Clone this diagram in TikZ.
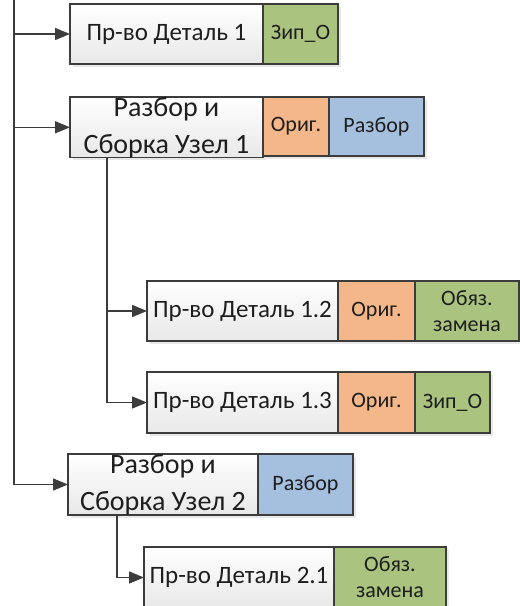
\documentclass[tikz,border=0pt]{standalone}
\usepackage{fontspec}
\setmainfont{Carlito}
\usetikzlibrary{arrows.meta,calc,shadows}
\definecolor{edge}{RGB}{60,60,60}
\definecolor{ink}{RGB}{30,30,30}
\definecolor{cgreen}{RGB}{170,195,126}
\definecolor{corange}{RGB}{244,183,138}
\definecolor{cblue}{RGB}{165,192,223}
\definecolor{cwhitebot}{RGB}{232,232,232}
\tikzset{
  cell/.style={draw=edge, line width=1.4pt, anchor=north west, inner sep=0pt,
    outer sep=0pt, align=center, text=ink,
    drop shadow={opacity=0.18, shadow xshift=2.5pt, shadow yshift=-2.5pt}},
  namecell/.style={cell, top color=white, bottom color=cwhitebot,
    font=\fontsize{25}{30}\selectfont},
  titlecell/.style={cell, top color=white, bottom color=cwhitebot,
    font=\fontsize{28}{37}\selectfont},
  tagfont/.style={font=\fontsize{22}{26}\selectfont},
  greencell/.style={cell, fill=cgreen, tagfont},
  orangecell/.style={cell, fill=corange, tagfont},
  bluecell/.style={cell, fill=cblue, tagfont},
  link/.style={draw=edge, line width=1.4pt,
    -{Triangle[length=15pt,width=12pt]}},
}
\begin{document}
\begin{tikzpicture}[x=1pt,y=-1pt]
\useasboundingbox (0,0) rectangle (520,606);
\clip (0,0) rectangle (520,606);
\fill[white] (0,0) rectangle (520,606);

% Деталь 1
\node[namecell, minimum width=193pt, minimum height=60pt] (a1) at (70,4) {Пр-во Деталь 1};
\node[greencell, minimum width=75pt, minimum height=60pt] (a2) at (a1.north east) {Зип\_О};

% Узел 1
\node[titlecell, minimum width=193pt, minimum height=59pt] (b1) at (70,97) {Разбор и\\Сборка Узел 1};
\node[orangecell, minimum width=66pt, minimum height=59pt] (b2) at (b1.north east) {Ориг.};
\node[bluecell, minimum width=95pt, minimum height=59pt] (b3) at (b2.north east) {Разбор};

% Деталь 1.2
\node[namecell, minimum width=191pt, minimum height=60pt] (c1) at (147,281) {Пр-во Деталь 1.2};
\node[orangecell, minimum width=77pt, minimum height=60pt] (c2) at (c1.north east) {Ориг.};
\node[greencell, minimum width=104pt, minimum height=60pt] (c3) at (c2.north east) {Обяз.\\замена};

% Деталь 1.3
\node[namecell, minimum width=191pt, minimum height=61pt] (d1) at (147,372) {Пр-во Деталь 1.3};
\node[orangecell, minimum width=77pt, minimum height=61pt] (d2) at (d1.north east) {Ориг.};
\node[greencell, minimum width=75pt, minimum height=61pt] (d3) at (d2.north east) {Зип\_О};

% Узел 2
\node[titlecell, minimum width=190pt, minimum height=61pt] (f1) at (68,454) {Разбор и\\Сборка Узел 2};
\node[bluecell, minimum width=95pt, minimum height=61pt] (f2) at (f1.north east) {Разбор};

% Деталь 2.1
\node[namecell, minimum width=190pt, minimum height=61pt] (e1) at (144,547) {Пр-во Деталь 2.1};
\node[greencell, minimum width=112pt, minimum height=61pt] (e2) at (e1.north east) {Обяз.\\замена};

% connectors
\coordinate (top) at (14,-2);
\coordinate (b1tap) at ($(b1.south west)+(37,0)$);
\coordinate (f1tap) at ($(f1.south west)+(49,0)$);
\draw[link] (top) |- (a1.west);
\draw[link] (top) |- (b1.west);
\draw[link] (top) |- (f1.west);
\draw[link] (b1tap) |- (c1.west);
\draw[link] (b1tap) |- (d1.west);
\draw[link] (f1tap) |- (e1.west);
\end{tikzpicture}
\end{document}
